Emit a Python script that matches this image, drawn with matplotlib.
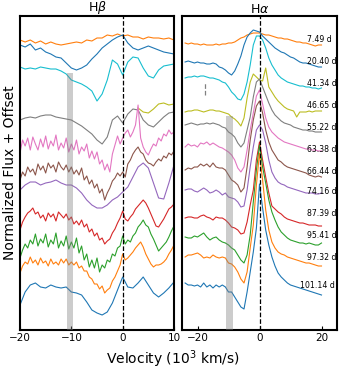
import numpy as np
import matplotlib
matplotlib.use("Agg")
import matplotlib.pyplot as plt

# epochs (days) and colours, top to bottom
days = ["7.49 d", "20.40 d", "41.34 d", "46.65 d", "55.22 d", "63.38 d",
        "66.44 d", "74.16 d", "87.39 d", "95.41 d", "97.32 d", "101.14 d"]
colors = ["C1", "C0", "C9", "C8", "C7", "C6", "C5", "C4", "C3", "C2", "C1", "C0"]

# Hbeta: velocity grids (10^3 km/s) and flux + offset
hb_vel = list(range(-20, 11))
hb_vel_fine = np.arange(-20, 10.5, 0.5)
hb_vel_olive = list(range(3, 11))
hb_7_49 = [290, 288, 290, 287, 289, 286, 288, 286, 285, 286, 287, 288, 287, 290, 289, 292,
           292, 295, 294, 296, 294, 295, 293, 293, 291, 293, 292, 292, 291, 292, 290]
hb_20_40 = [285, 283, 286, 280, 282, 278, 276, 273, 272, 267, 262, 260, 262, 265, 271, 276,
            282, 286, 290, 293, 295, 287, 282, 280, 282, 284, 282, 280, 278, 277, 276]
hb_41_34 = [263, 261, 262, 261, 263, 262, 261, 261, 259, 256, 250, 248, 246, 243, 239, 229,
            236, 250, 270, 266, 255, 268, 273, 272, 262, 254, 252, 260, 264, 265, 266]
hb_46_65 = [222, 218, 217, 221, 226, 227, 225, 226]
hb_55_22 = [210, 212, 213, 212, 214, 215, 215, 213, 212, 211, 210, 207, 204, 200, 196, 190,
            186, 193, 210, 214, 207, 216, 221, 220, 210, 205, 203, 208, 213, 217, 218]
hb_63_38 = [177, 190, 184, 192, 180, 193, 186, 180, 191, 183,
            194, 181, 189, 184, 195, 180, 187, 182, 192, 178,
            186, 180, 190, 176, 183, 179, 186, 172, 179, 171,
            178, 166, 170, 160, 166, 158, 176, 185, 194, 186,
            192, 197, 200, 193, 198, 205, 225, 192, 183, 178,
            175, 181, 186, 184, 192, 189, 196, 194, 200, 196,
            198]
hb_66_44 = [150, 158, 154, 163, 158, 161, 155, 166, 160, 164,
            157, 167, 162, 165, 158, 168, 163, 160, 165, 158,
            163, 156, 160, 155, 162, 150, 154, 146, 150, 142,
            146, 137, 141, 130, 137, 142, 149, 152, 157, 154,
            158, 153, 166, 170, 176, 180, 183, 178, 176, 170,
            167, 166, 164, 168, 171, 169, 174, 172, 177, 175,
            179]
hb_74_16 = [140, 145, 148, 148, 145, 147, 148, 150, 147, 145, 145, 142, 137, 130, 125, 122,
            122, 125, 130, 133, 138, 143, 153, 163, 167, 162, 147, 132, 131, 147, 165]
hb_87_39 = [100, 108, 113, 117, 119, 122, 116, 118, 112, 115,
            109, 117, 113, 116, 109, 118, 115, 112, 116, 110,
            113, 106, 109, 105, 110, 103, 106, 98, 101, 94,
            97, 90, 92, 86, 89, 91, 97, 101, 107, 112,
            119, 111, 109, 113, 116, 121, 124, 127, 130, 127,
            122, 116, 110, 104, 103, 107, 111, 116, 121, 123,
            126]
hb_95_41 = [72, 80, 86, 82, 90, 86, 96, 84, 91, 87,
            96, 83, 90, 86, 97, 82, 89, 84, 94, 81,
            88, 82, 92, 77, 84, 70, 76, 63, 70, 62,
            72, 58, 65, 62, 70, 68, 76, 74, 82, 84,
            94, 86, 90, 88, 94, 97, 103, 106, 110, 105,
            103, 96, 91, 85, 79, 82, 85, 88, 93, 99,
            104]
hb_97_32 = [57, 64, 68, 66, 73, 67, 70, 65, 72, 67,
            69, 64, 71, 66, 68, 65, 71, 67, 71, 65,
            68, 65, 68, 62, 64, 59, 59, 53, 51, 46,
            46, 41, 44, 37, 40, 42, 49, 53, 59, 65,
            76, 70, 72, 75, 78, 82, 85, 88, 83, 76,
            71, 66, 63, 65, 65, 66, 68, 71, 76, 80,
            85]
hb_101_14 = [25, 38, 45, 47, 43, 42, 45, 43, 42, 43, 38, 37, 35, 28, 20, 17,
             15, 18, 27, 40, 53, 43, 42, 47, 53, 45, 37, 33, 37, 42, 48]

# Halpha: velocity grid (10^3 km/s) and flux + offset
ha_vel = list(range(-24, 21))
ha_7_49 = [287, 286, 287, 286, 286, 285, 286, 285, 285, 285, 286, 285, 286, 286, 287,
           287, 288, 290, 292, 293, 295, 296, 297, 297, 297, 296, 295, 295, 294, 293,
           292, 292, 291, 291, 290, 289, 288, 288, 287, 287, 286, 285, 284, 285, 285]
ha_20_40 = [268, 269, 268, 267, 268, 267, 267, 266, 266, 267, 266, 263, 262, 260, 257,
            255, 259, 266, 274, 285, 293, 297, 300, 299, 298, 294, 291, 288, 285, 282,
            280, 278, 277, 275, 273, 272, 270, 268, 267, 267, 266, 265, 264, 263, 263]
ha_41_34 = [252, 253, 253, 254, 253, 254, 254, 253, 252, 252, 251, 250, 248, 247, 243,
            238, 235, 231, 230, 236, 248, 265, 285, 294, 294, 290, 282, 272, 265, 260,
            255, 252, 250, 248, 247, 246, 245, 244, 244, 243, 243, 242, 242, 241, 242]
ha_46_65 = [218, 219, 219, 220, 220, 219, 218, 219, 220, 220, 219, 219, 218, 217, 216,
            213, 211, 208, 204, 212, 232, 248, 256, 253, 250, 249, 262, 243, 238, 233,
            229, 226, 223, 221, 220, 219, 213, 218, 218, 218, 219, 218, 219, 219, 219]
ha_55_22 = [205, 206, 207, 206, 205, 206, 206, 207, 206, 207, 206, 205, 203, 202, 198,
            196, 193, 187, 183, 187, 200, 213, 233, 248, 251, 243, 235, 227, 220, 215,
            212, 209, 207, 206, 205, 203, 202, 201, 200, 200, 199, 199, 198, 198, 198]
ha_63_38 = [183, 186, 184, 185, 183, 187, 186, 188, 185, 187, 185, 183, 182, 180, 178,
            175, 170, 162, 158, 163, 180, 200, 217, 234, 240, 226, 212, 203, 198, 195,
            192, 190, 188, 187, 186, 185, 184, 183, 182, 181, 181, 180, 180, 179, 179]
ha_66_44 = [160, 162, 161, 163, 163, 166, 164, 166, 163, 167, 163, 162, 162, 160, 155,
            150, 148, 145, 138, 142, 163, 190, 210, 224, 229, 217, 200, 188, 180, 175,
            170, 168, 165, 163, 162, 161, 160, 159, 158, 157, 155, 154, 153, 154, 153]
ha_74_16 = [140, 141, 141, 139, 138, 140, 142, 140, 137, 138, 140, 138, 135, 137, 133,
            132, 131, 128, 123, 124, 140, 163, 183, 200, 205, 200, 187, 170, 158, 152,
            148, 146, 145, 143, 142, 141, 140, 139, 138, 137, 137, 137, 136, 136, 137]
ha_87_39 = [112, 113, 113, 112, 112, 114, 115, 113, 112, 110, 113, 112, 112, 110, 107,
            103, 102, 100, 96, 97, 108, 125, 140, 170, 188, 170, 153, 137, 124, 121,
            118, 116, 113, 111, 110, 109, 108, 107, 107, 106, 105, 105, 105, 104, 104]
ha_95_41 = [93, 92, 92, 94, 93, 95, 97, 93, 90, 92, 93, 90, 88, 87, 85,
            82, 80, 75, 70, 67, 75, 95, 128, 160, 185, 163, 147, 130, 118, 110,
            103, 98, 95, 92, 90, 89, 88, 87, 87, 86, 87, 86, 85, 85, 87]
ha_97_32 = [73, 75, 75, 76, 77, 75, 72, 73, 72, 75, 73, 72, 73, 72, 67,
            66, 63, 58, 51, 47, 58, 82, 105, 145, 177, 150, 120, 100, 88, 82,
            78, 76, 75, 73, 72, 71, 70, 69, 68, 67, 67, 66, 65, 64, 64]
ha_101_14 = [47, 45, 45, 44, 45, 43, 47, 43, 45, 42, 45, 43, 45, 43, 38,
             38, 33, 28, 23, 21, 38, 58, 78, 102, 146, 122, 100, 85, 73, 64,
             57, 53, 50, 47, 45, 44, 43, 42, 41, 40, 39, 38, 37, 36, 35]

hb_spectra = [(hb_vel, hb_7_49), (hb_vel, hb_20_40), (hb_vel, hb_41_34),
              (hb_vel_olive, hb_46_65), (hb_vel, hb_55_22), (hb_vel_fine, hb_63_38),
              (hb_vel_fine, hb_66_44), (hb_vel, hb_74_16), (hb_vel_fine, hb_87_39),
              (hb_vel_fine, hb_95_41), (hb_vel_fine, hb_97_32), (hb_vel, hb_101_14)]
ha_spectra = [ha_7_49, ha_20_40, ha_41_34, ha_46_65, ha_55_22, ha_63_38,
              ha_66_44, ha_74_16, ha_87_39, ha_95_41, ha_97_32, ha_101_14]

# label positions next to the Halpha spectra
label_y = [290, 268, 247, 224, 202, 181, 159, 138, 116, 94, 72, 44]
label_v = [15.2] * 11 + [13.0]

fig = plt.figure(figsize=(3.41, 3.72), dpi=100)
ax1 = fig.add_axes([20 / 341, 42 / 372, 154 / 341, 314 / 372])
ax2 = fig.add_axes([182 / 341, 42 / 372, 155 / 341, 314 / 372])

# Hbeta panel
for (vel, flux), c in zip(hb_spectra, colors):
    ax1.plot(vel, flux, color=c, lw=0.8)
ax1.axvspan(-10.9, -9.6, ymax=0.82, color="gray", alpha=0.4, lw=0, zorder=3)

# Halpha panel
for flux, c in zip(ha_spectra, colors):
    ax2.plot(ha_vel, flux, color=c, lw=0.8)
ax2.axvspan(-10.8, -8.7, ymax=0.68, color="gray", alpha=0.4, lw=0, zorder=3)
ax2.plot([-17.7, -17.7], [235, 247], color="gray", ls="--", lw=0.9)
for lab, v, y in zip(days, label_v, label_y):
    ax2.text(v, y, lab, fontsize=5.6, ha="left", va="center")

for ax, title in [(ax1, r"H$\beta$"), (ax2, r"H$\alpha$")]:
    ax.axvline(0, color="k", ls="--", lw=0.9)
    ax.set_ylim(0, 314)
    ax.set_yticks([])
    ax.set_title(title, fontsize=9, pad=2)
    ax.tick_params(axis="x", direction="in", length=3, labelsize=7.5, pad=2)
    for s in ax.spines.values():
        s.set_linewidth(1.5)

ax1.set_xlim(-20, 10)
ax1.set_xticks([-20, -10, 0, 10])
ax2.set_xlim(-25, 25)
ax2.set_xticks([-20, 0, 20])

fig.text(10 / 341, 1 - 173 / 372, "Normalized Flux + Offset", rotation=90,
         ha="center", va="center", fontsize=10)
fig.text(173 / 341, 1 - 359 / 372, r"Velocity (10$^3$ km/s)",
         ha="center", va="center", fontsize=10)

fig.savefig("out.png", dpi=100)
